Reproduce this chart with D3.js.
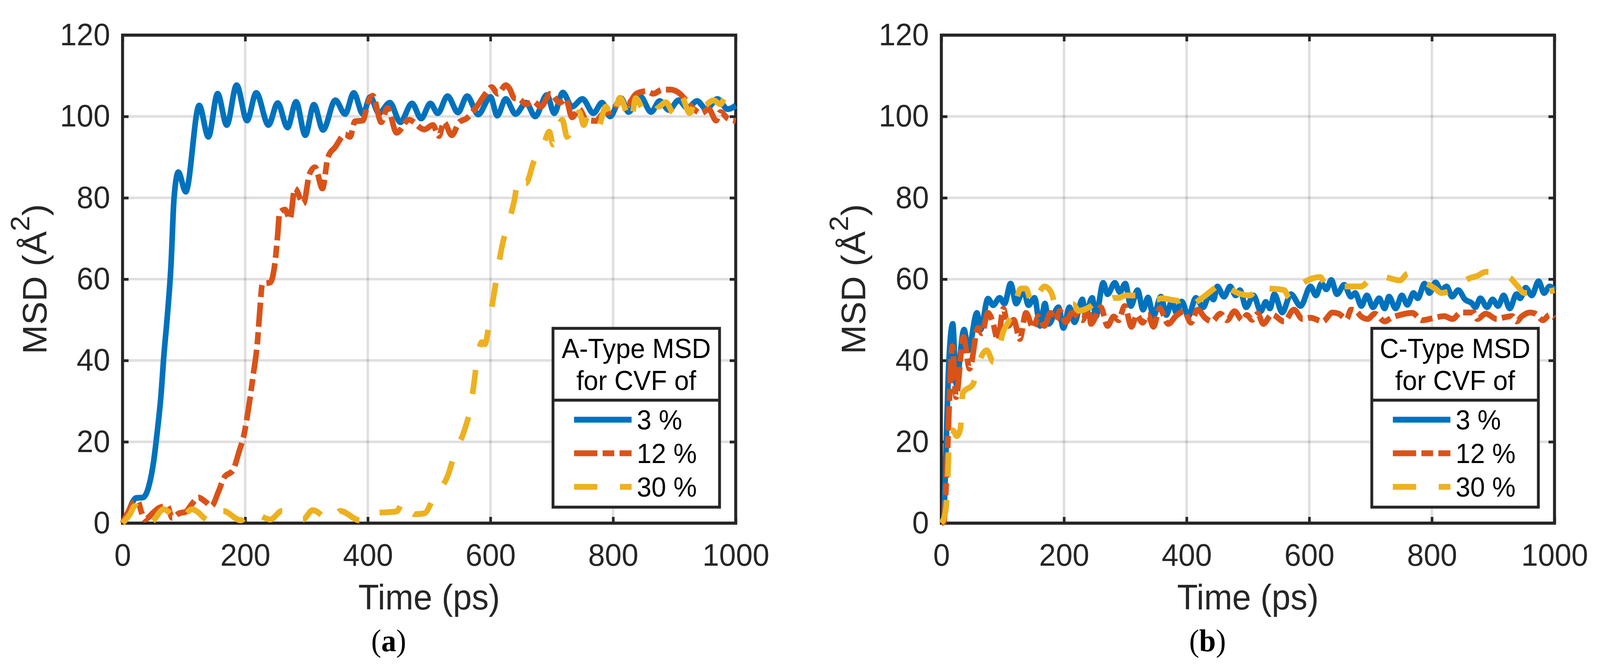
<!DOCTYPE html>
<html lang="en">
<head>
<meta charset="utf-8">
<script src="https://cdn.jsdelivr.net/npm/d3@7/dist/d3.min.js"></script>
<style>
  html, body { margin: 0; padding: 0; background: #fff; overflow: hidden; }
  svg { display: block; width: 100vw; height: 100vh; font-family: "Liberation Sans", Arial, sans-serif; }
</style>
</head>
<body>
<svg id="chart" viewBox="0 0 4256 1711" preserveAspectRatio="none"></svg>
<script>
// ---- data: [time (ps), MSD (Å^2)] ----
const timeTicks = [0, 200, 400, 600, 800, 1000];
const msdTicks = [0, 20, 40, 60, 80, 100, 120];
const cvfLabels = ['3 %', '12 %', '30 %'];

// (a) A-type
const aType3 = [[0,0],[8,2],[16,5.1],[22,6.2],[33,6.3],[43,9.2],[51,15.5],[56,21.7],[63,32],[67,40.5],[73,50.9],[79,63.4],[84,80],[91,86.3],[103,81.5],[125,102.7],[140,95],[155,105.6],[170,97.9],[186,107.7],[203,99],[218,105.8],[238,97.9],[253,103.3],[269,97.3],[283,103.6],[298,95.4],[312,102.9],[327,96.7],[347,104],[363,100.6],[377,105.8],[392,100.6],[404,104.8],[418,100.8],[436,103.4],[453,98.6],[472,103.2],[487,99.5],[502,103.2],[514,100.8],[530,105],[547,101],[562,105],[580,100.5],[600,104.8],[611,100.2],[625,104.3],[641,100.6],[658,103.4],[673,100],[692,105.3],[704,100.8],[718,105.9],[733,102.4],[750,104.3],[768,100.8],[782,103.4],[795,100],[813,104.5],[825,101.1],[844,105],[862,101.1],[876,103.8],[891,101.6],[907,104],[921,102.1],[937,103.8],[952,101.8],[970,104.3],[987,101.8],[1000,102.7]];
const aType12 = [[0,0],[10,3],[18,5.1],[25,5.3],[31,2.6],[36,0.9],[50,2.6],[60,3.8],[73,4.2],[81,1.3],[92,2.4],[103,2.8],[113,4.7],[124,6.3],[135,5.3],[145,4.2],[156,7.6],[166,11.3],[180,13],[190,17.6],[198,21.7],[206,28.8],[213,36.3],[220,44.6],[224,52.5],[228,58.8],[241,59.2],[249,64.6],[253,70.9],[256,76.3],[265,77.1],[273,74.8],[281,82.3],[295,78.6],[305,85.9],[314,87.5],[326,82.3],[335,90],[347,92.5],[363,95.6],[371,95],[379,98.8],[392,99],[400,103.3],[408,105.1],[422,98.6],[432,102.1],[447,96],[467,99.2],[492,96.8],[506,97.9],[516,95.2],[524,98.6],[537,95.4],[549,98.6],[561,99.5],[576,102.1],[592,105.6],[602,107.2],[612,105.6],[625,107.7],[631,106.9],[639,104.5],[647,104.3],[658,103],[670,103.7],[682,102.4],[698,105.6],[713,103.4],[723,104.3],[733,99.8],[745,101.8],[756,99.2],[772,98.9],[784,100.8],[795,101.1],[803,102.4],[815,104],[823,103],[838,105.6],[854,106.2],[866,105.6],[880,106.6],[893,106.6],[909,105.6],[917,104.3],[932,101.8],[944,100.8],[956,101.8],[968,99],[975,101.1],[987,99.5],[1000,98.9]];
const aType30 = [[0,0],[12,2.2],[20,4.2],[46,0.3],[67,3.4],[92,0.7],[113,3.4],[145,0.3],[164,3],[193,0.7],[209,2.8],[241,0.9],[260,3],[294,0.9],[310,3.2],[339,0.7],[355,3],[387,0.7],[405,2.5],[433,2.7],[447,2.9],[459,5.5],[476,2.2],[492,2.4],[509,6.8],[531,11.9],[542,17.3],[557,22.6],[567,28.2],[573,34.2],[578,40],[586,44.5],[591,44],[599,50.5],[606,56.5],[612,62.3],[619,68.2],[629,73.6],[639,79.4],[646,85.1],[658,83.6],[670,88.6],[688,93.8],[696,96.3],[702,93.1],[717,99.2],[725,95],[733,97.3],[745,101.1],[752,97.9],[760,100.6],[776,97.6],[788,102.4],[799,99.2],[811,104.6],[829,98.7],[837,104.5],[850,101.8],[864,104],[874,102.4],[886,103.5],[899,100.8],[911,105],[925,100.8],[936,104.6],[948,102.7],[964,104],[975,103],[983,104.6],[995,103],[1000,103.5]];

// (b) C-type
const cType3 = [[0,0],[3,0.3],[9,25],[12,38.9],[18.6,49],[24,34.3],[37,47.6],[44,42.5],[58,51.7],[64,47.6],[76,55.2],[84.5,53.6],[95,55.4],[103,54],[113,58.9],[122,54],[134,57.3],[142,53.6],[152,55.4],[161,48.5],[169,54],[175,49],[191,53.1],[199,48],[209,53.1],[217,49.4],[230,55],[235,51.3],[246,55.4],[252,50.8],[264,59.1],[271,56.3],[283,59.1],[291,56.8],[300,58.9],[309,53.4],[320,57.3],[329,52.5],[337,55.5],[346,50.9],[358,55.7],[367,51.2],[376,54.7],[383,51.8],[392,54.5],[403,50.9],[415,55.4],[427,53.1],[437,56],[444,55],[450,58.2],[461,55.7],[471,58.2],[480,56],[487,57.3],[497,53.1],[509,56],[521,52.1],[529,54.4],[536,52.8],[543,56.3],[556,51.8],[570,56.3],[586,53.4],[602,58.2],[611,56],[620,58.9],[628,57.5],[636,59.8],[645,56.3],[657,58.6],[668,55.7],[675,56.6],[685,53.4],[694,56],[704,53.1],[714,55.3],[723,52.8],[730,55.7],[741,52.8],[751,56],[760,53.7],[770,56.6],[777,55.3],[788,58.9],[796,56.6],[806,59.2],[815,57.3],[824,58.2],[833,55.7],[843,57.3],[854,55],[865,54.1],[871,53.1],[879,55.3],[890,53.1],[899,55],[908,53.4],[917,56],[927,52.8],[938,56.3],[944,55.3],[953,57.9],[963,56],[974,59.5],[983,56.6],[992,58.2],[1000,57.3]];
const cType12 = [[0,0],[4,0.3],[9,13.6],[13,29.7],[18,43.5],[24,31],[36,45.8],[46,38],[60,48],[66,46.7],[76,51.7],[84,49.4],[92,45],[101,52.7],[109,48.5],[118,50],[128,45.3],[138,51.7],[150,48],[158,50.8],[168,48.5],[178,51.7],[187,49.9],[193,52.2],[203,49.4],[213,51.7],[230,49.9],[240,52.7],[244,49],[260,53.1],[271,48.5],[281,50.8],[289,49.9],[299,53.4],[310,48.3],[319,51.2],[328,49.3],[337,51.2],[346,48.3],[356,52.8],[370,49],[383,51],[396,52.1],[407,49.3],[418,52.5],[430,50.5],[441,49.6],[455,51.5],[466,49.9],[478,52.1],[491,49.9],[498,51.2],[507,50],[516,51.5],[525,49],[539,51.3],[559,49.6],[575,52.5],[589,50.2],[602,50.5],[622,49.6],[638,51.8],[648,51.5],[661,50.2],[668,52.5],[677,52.1],[684,50.9],[695,50.2],[707,51.5],[723,49.6],[734,50.5],[748,51.2],[768,51.7],[784,49.9],[804,50.5],[820,50.9],[834,50.2],[847,51.8],[868,51.8],[874,50.2],[888,51.5],[906,50.2],[915,50.5],[931,50.9],[938,49.6],[947,50.9],[960,51.8],[969,51.5],[981,49.9],[992,51.2],[1000,50.5]];
const cType30 = [[0,0],[7,3],[11,13.6],[13,22.8],[19,22.8],[25,21.4],[31,23.2],[35,32],[52,34.3],[60,38.9],[74,42.5],[85,39.6],[93,42.5],[101,47.1],[109,49.4],[117,52.2],[130,57.7],[138,57.7],[148,53.8],[168,58.2],[179,56.8],[187,53.6],[207,53.6],[215,53.8],[224,52.2],[240,53],[254,54.3],[267,54.3],[281,55.4],[289,55.4],[300,56],[324,56],[337,55],[353,55],[358,55.3],[387,54.7],[398,55.7],[408,53.7],[419,54.7],[444,57.6],[460,59.5],[471,57.6],[503,56],[521,58.9],[528,57.9],[559,57.3],[568,55.3],[580,57.9],[618,60.5],[627,58.6],[645,58.2],[684,58.2],[698,59.8],[707,60.8],[714,60.8],[748,59.7],[761,61.4],[775,60.2],[806,57.6],[815,56.6],[829,57],[861,60.2],[874,60.8],[888,61.8],[926,60.5],[938,58.6],[951,56.6],[990,57],[1000,57.3]];

// ---- styling ----
const colors = ['#0072BD', '#D95319', '#EDB120'];
const dashes = [null, '62,14,31,14', '62,60'];
const axisColor = '#262626';

const svg = d3.select('#chart');

function drawPanel(left, seriesList, legendTitle, tag) {
  const x0 = left, x1 = left + 1631, yTop = 90, yBot = 1340;
  const x = d3.scaleLinear().domain([0, 1000]).range([x0, x1]);
  const y = d3.scaleLinear().domain([0, 120]).range([yBot, yTop]);
  const g = svg.append('g');

  // grid
  g.append('g').selectAll('line').data(timeTicks.slice(1, -1)).enter().append('line')
    .attr('x1', d => x(d)).attr('x2', d => x(d)).attr('y1', yTop).attr('y2', yBot)
    .attr('stroke', 'rgba(38,38,38,0.15)').attr('stroke-width', 6.5);
  g.append('g').selectAll('line').data(msdTicks.slice(1, -1)).enter().append('line')
    .attr('y1', d => y(d)).attr('y2', d => y(d)).attr('x1', x0).attr('x2', x1)
    .attr('stroke', 'rgba(38,38,38,0.15)').attr('stroke-width', 6.5);

  // axes: inward ticks on all four sides, labels bottom and left
  const fmt = d3.format('d');
  const bottom = g.append('g').attr('transform', `translate(0,${yBot})`)
    .call(d3.axisBottom(x).tickValues(timeTicks).tickFormat(fmt).tickSizeInner(-16).tickSizeOuter(0).tickPadding(52));
  const leftAx = g.append('g').attr('transform', `translate(${x0},0)`)
    .call(d3.axisLeft(y).tickValues(msdTicks).tickFormat(fmt).tickSizeInner(-16).tickSizeOuter(0).tickPadding(33));
  const top = g.append('g').attr('transform', `translate(0,${yTop})`)
    .call(d3.axisTop(x).tickValues(timeTicks).tickSizeInner(-16).tickSizeOuter(0).tickFormat(''));
  const right = g.append('g').attr('transform', `translate(${x1},0)`)
    .call(d3.axisRight(y).tickValues(msdTicks).tickSizeInner(-16).tickSizeOuter(0).tickFormat(''));
  [bottom, leftAx, top, right].forEach(a => {
    a.select('.domain').remove();
    a.selectAll('.tick line').attr('stroke', axisColor).attr('stroke-width', 7);
    a.selectAll('.tick text').attr('fill', axisColor).attr('font-size', 80)
      .attr('font-family', '"Liberation Sans", Arial, sans-serif');
  });
  g.append('rect').attr('x', x0).attr('y', yTop).attr('width', x1 - x0).attr('height', yBot - yTop)
    .attr('fill', 'none').attr('stroke', axisColor).attr('stroke-width', 8);

  // series
  const line = d3.line().x(d => x(d[0])).y(d => y(d[1])).curve(d3.curveMonotoneX);
  seriesList.forEach((s, i) => {
    g.append('path').datum(s).attr('d', line)
      .attr('fill', 'none').attr('stroke', colors[i]).attr('stroke-width', 15)
      .attr('stroke-linejoin', 'round').attr('stroke-linecap', 'butt')
      .attr('stroke-dasharray', dashes[i]);
  });

  // axis labels
  g.append('text').attr('x', (x0 + x1) / 2).attr('y', 1561).attr('text-anchor', 'middle')
    .attr('font-size', 90).attr('fill', axisColor).text('Time (ps)');
  const yl = g.append('text').attr('transform', `translate(${x0 - 202},${(yTop + yBot) / 2}) rotate(-90)`)
    .attr('text-anchor', 'middle').attr('font-size', 90).attr('fill', axisColor);
  yl.append('tspan').text('MSD (Å');
  yl.append('tspan').attr('font-size', 71).attr('dy', -46).text('2');
  yl.append('tspan').attr('dy', 46).text(')');

  // panel tag
  const tg = g.append('text').attr('x', x0 + 708).attr('y', 1668).attr('text-anchor', 'middle')
    .attr('font-family', '"Liberation Serif", "Times New Roman", serif').attr('font-size', 80).attr('fill', '#000');
  tg.append('tspan').text('(');
  tg.append('tspan').attr('font-weight', 'bold').text(tag);
  tg.append('tspan').text(')');

  // legend
  const lx = x1 - 43 - 443, ly = 841, lw = 443, lh = 458;
  const lg = g.append('g');
  lg.append('rect').attr('x', lx).attr('y', ly).attr('width', lw).attr('height', lh)
    .attr('fill', '#fff').attr('stroke', axisColor).attr('stroke-width', 7.5);
  lg.append('line').attr('x1', lx).attr('x2', lx + lw).attr('y1', ly + 184).attr('y2', ly + 184)
    .attr('stroke', axisColor).attr('stroke-width', 7.5);
  legendTitle.forEach((t, k) => {
    lg.append('text').attr('x', lx + lw / 2).attr('y', ly + 76 + k * 82).attr('text-anchor', 'middle')
      .attr('font-size', 70).attr('fill', '#000').text(t);
  });
  cvfLabels.forEach((lab, i) => {
    const yy = ly + 234 + i * 86;
    lg.append('line').attr('x1', lx + 56).attr('x2', lx + 209).attr('y1', yy).attr('y2', yy)
      .attr('stroke', colors[i]).attr('stroke-width', 15).attr('stroke-dasharray', dashes[i]);
    lg.append('text').attr('x', lx + 223).attr('y', yy + 25).attr('font-size', 70)
      .attr('fill', '#000').text(lab);
  });
}

drawPanel(326, [aType3, aType12, aType30], ['A-Type MSD', 'for CVF of'], 'a');
drawPanel(2504, [cType3, cType12, cType30], ['C-Type MSD', 'for CVF of'], 'b');
</script>
</body>
</html>
